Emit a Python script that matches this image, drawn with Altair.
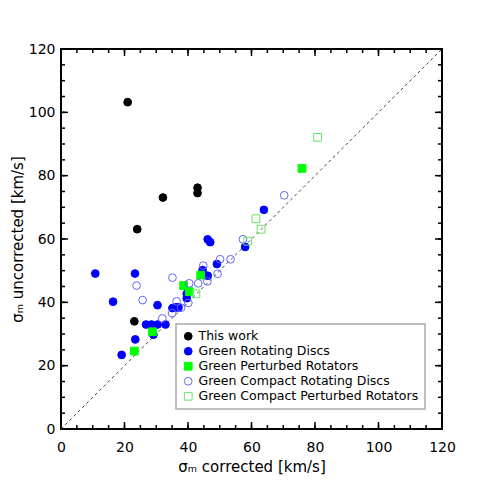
import altair as alt
import pandas as pd

# ---- data ----
this_work_x = [21.0, 24.0, 32.1, 43.0, 43.0, 23.1]
this_work_y = [103.2, 63.1, 73.1, 76.2, 74.5, 34.0]

rot_x = [10.8, 23.3, 16.4, 19.1, 23.4, 26.8, 28.5, 30.4, 32.9, 29.1, 30.4, 35.1,
         36.2, 37.0, 39.6, 39.6, 44.6, 46.2, 49.1, 46.2, 47.0, 58.0, 63.9]
rot_y = [49.1, 49.1, 40.2, 23.4, 28.3, 33.0, 33.0, 33.0, 33.0, 29.8, 39.1, 38.2,
         38.4, 38.4, 41.3, 42.7, 50.2, 48.4, 52.1, 59.9, 59.0, 57.5, 69.2]

pert_x = [23.1, 28.8, 38.6, 40.4, 44.0, 75.9]
pert_y = [24.6, 30.7, 45.3, 43.4, 48.6, 82.3]

comp_x = [23.8, 25.7, 31.9, 35.0, 35.1, 36.4, 37.8, 40.1, 40.4, 43.2, 46.1, 44.8,
          50.1, 53.4, 49.3, 57.3, 70.3]
comp_y = [45.3, 40.7, 34.9, 36.6, 47.8, 40.3, 38.3, 39.8, 46.0, 46.0, 46.6, 51.6,
          53.6, 53.6, 49.0, 59.9, 73.8]

cpert_x = [42.5, 58.8, 61.4, 63.0, 80.8]
cpert_y = [42.7, 59.3, 66.4, 63.1, 92.1]

groups = ["This work", "Green Rotating Discs", "Green Perturbed Rotators",
          "Green Compact Rotating Discs", "Green Compact Perturbed Rotators"]
fills = ["black", "#0000ff", "#00ff00", "transparent", "transparent"]
strokes = ["black", "#0000ff", "#00ff00", "#6464ff", "#64e664"]
shapes = ["circle", "circle", "square", "circle", "square"]

major_ticks = [0, 20, 40, 60, 80, 100, 120]
minor_ticks = list(range(0, 125, 5))
diag = [0, 120]

# draw order: blue filled, green filled, open blue, open green, black
rows = []
for g, xs_, ys_ in [(groups[1], rot_x, rot_y), (groups[2], pert_x, pert_y),
                    (groups[3], comp_x, comp_y), (groups[4], cpert_x, cpert_y),
                    (groups[0], this_work_x, this_work_y)]:
    for a, b in zip(xs_, ys_):
        rows.append({"group": g, "x": a, "y": b})
df = pd.DataFrame(rows)
df["ord"] = range(len(df))
line_df = pd.DataFrame({"x": diag, "y": diag})
major_df = pd.DataFrame({"t": major_ticks})
minor_df = pd.DataFrame({"t": minor_ticks})

FONT = "DejaVu Sans"
W, H = 381, 380
xs = alt.Scale(domain=[0, 120], nice=False, zero=False)
ys = alt.Scale(domain=[0, 120], nice=False, zero=False)

x_axis = alt.Axis(values=major_ticks, ticks=False, tickSize=0, domain=False,
                  grid=False, labelPadding=11, labelFont=FONT, labelFontSize=14,
                  labelColor="black", labelFlush=False, labelOverlap=False,
                  title="σₘ corrected [km/s]",
                  titleFont=FONT, titleFontSize=15, titleFontWeight="normal",
                  titleColor="black", titleY=37, titleBaseline="middle")
y_axis = alt.Axis(values=major_ticks, ticks=False, tickSize=0, domain=False,
                  grid=False, labelPadding=6, labelFont=FONT, labelFontSize=14,
                  labelColor="black", labelFlush=False, labelOverlap=False,
                  title="σₘ uncorrected [km/s]",
                  titleFont=FONT, titleFontSize=15, titleFontWeight="normal",
                  titleColor="black", titleX=-44, titleBaseline="middle")

points = alt.Chart(df).mark_point(size=60, strokeWidth=1, opacity=1).encode(
    x=alt.X("x:Q", scale=xs, axis=x_axis),
    y=alt.Y("y:Q", scale=ys, axis=y_axis),
    fill=alt.Fill("group:N", scale=alt.Scale(domain=groups, range=fills),
                  legend=alt.Legend(title=None)),
    stroke=alt.Stroke("group:N", scale=alt.Scale(domain=groups, range=strokes),
                      legend=alt.Legend(title=None)),
    shape=alt.Shape("group:N", scale=alt.Scale(domain=groups, range=shapes),
                    legend=alt.Legend(title=None)),
    order=alt.Order("ord:Q"),
)

diag_line = alt.Chart(line_df).mark_line(
    color="#444444", strokeWidth=1, strokeDash=[3, 3]).encode(
    x=alt.X("x:Q", scale=xs, axis=x_axis),
    y=alt.Y("y:Q", scale=ys, axis=y_axis),
)


def tick_layers(data, length):
    tick = dict(color="black", strokeWidth=1.5)
    bottom = alt.Chart(data).mark_rule(**tick).encode(
        x=alt.X("t:Q", scale=xs, axis=x_axis),
        y=alt.value(H), y2=alt.value(H - length))
    top = alt.Chart(data).mark_rule(**tick).encode(
        x=alt.X("t:Q", scale=xs, axis=x_axis),
        y=alt.value(0), y2=alt.value(length))
    left = alt.Chart(data).mark_rule(**tick).encode(
        y=alt.Y("t:Q", scale=ys, axis=y_axis),
        x=alt.value(0), x2=alt.value(length))
    right = alt.Chart(data).mark_rule(**tick).encode(
        y=alt.Y("t:Q", scale=ys, axis=y_axis),
        x=alt.value(W), x2=alt.value(W - length))
    return [bottom, top, left, right]


layers = tick_layers(minor_df, 4) + tick_layers(major_df, 7) + [diag_line, points]

chart = alt.layer(*layers).properties(
    width=W, height=H,
    autosize=alt.AutoSizeParams(type="none"),
    padding={"left": 53, "top": 41, "right": 20, "bottom": 60},
).configure_view(
    stroke="black", strokeWidth=2
).configure_legend(
    orient="none", legendX=115, legendY=275,
    fillColor="white", strokeColor="#aaaaaa", strokeWidth=1.5,
    padding=6, labelFont=FONT, labelFontSize=12.5, labelColor="black",
    labelLimit=400, symbolSize=60, symbolStrokeWidth=1, rowPadding=2,
    labelOffset=4,
)

chart.save("out.html", embed_options={"renderer": "svg", "actions": False})
